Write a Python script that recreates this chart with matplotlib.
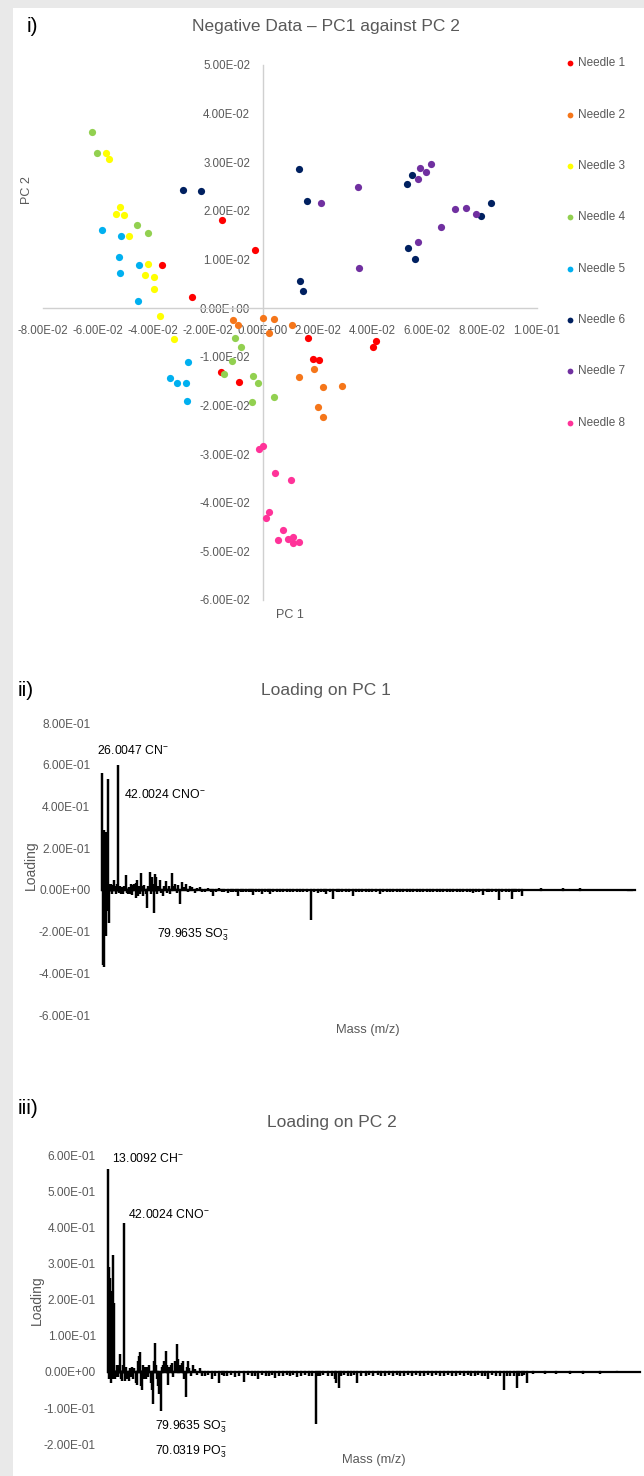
import numpy as np
import matplotlib
matplotlib.use("Agg")
from matplotlib import pyplot as plt
from matplotlib.patches import Rectangle
from matplotlib.ticker import FormatStrFormatter

plt.rcParams['font.family'] = ['Liberation Sans', 'DejaVu Sans']
plt.rcParams['mathtext.fontset'] = 'custom'
plt.rcParams['mathtext.rm'] = 'Liberation Sans'
plt.rcParams['mathtext.it'] = 'Liberation Sans'

# ---- panel i: PCA scores (PC1, PC2) ----
needle_names = ["Needle 1", "Needle 2", "Needle 3", "Needle 4",
                "Needle 5", "Needle 6", "Needle 7", "Needle 8"]
needle_colors = ["#FF0000", "#F5761A", "#FFFF00", "#92D050",
                 "#00B0F0", "#002060", "#7030A0", "#FF3399"]

needle1_x = [-0.0149, -0.0028, -0.0367, -0.0256, -0.0152, -0.0086, 0.0166, 0.0183, 0.0204, 0.0414, 0.0402]
needle1_y = [0.0181, 0.0119, 0.0088, 0.0023, -0.0132, -0.0152, -0.0062, -0.0104, -0.0106, -0.0067, -0.0080]
needle2_x = [-0.0108, -0.0089, 0.0000, 0.0041, 0.0023, 0.0108, 0.0132, 0.0188, 0.0221, 0.0288, 0.0203, 0.0221]
needle2_y = [-0.0025, -0.0035, -0.0021, -0.0023, -0.0051, -0.0035, -0.0141, -0.0125, -0.0162, -0.0160, -0.0204, -0.0224]
needle3_x = [-0.0569, -0.0560, -0.0521, -0.0533, -0.0505, -0.0485, -0.0418, -0.0427, -0.0395, -0.0397, -0.0373, -0.0322]
needle3_y = [0.0320, 0.0307, 0.0209, 0.0193, 0.0192, 0.0149, 0.0091, 0.0069, 0.0065, 0.0039, -0.0016, -0.0064]
needle4_x = [-0.0623, -0.0602, -0.0459, -0.0419, -0.0099, -0.0079, -0.0112, -0.0142, -0.0033, -0.0016, -0.0039, 0.0040]
needle4_y = [0.0362, 0.0319, 0.0172, 0.0155, -0.0062, -0.0079, -0.0108, -0.0136, -0.0140, -0.0154, -0.0192, -0.0183]
needle5_x = [-0.0584, -0.0517, -0.0523, -0.0520, -0.0451, -0.0454, -0.0270, -0.0336, -0.0311, -0.0278, -0.0276]
needle5_y = [0.0160, 0.0149, 0.0106, 0.0072, 0.0088, 0.0014, -0.0110, -0.0143, -0.0154, -0.0154, -0.0190]
needle6_x = [-0.0289, -0.0223, 0.0131, 0.0163, 0.0136, 0.0148, 0.0528, 0.0543, 0.0530, 0.0555, 0.0795, 0.0833]
needle6_y = [0.0242, 0.0240, 0.0286, 0.0221, 0.0056, 0.0036, 0.0256, 0.0273, 0.0123, 0.0102, 0.0190, 0.0216]
needle7_x = [0.0212, 0.0348, 0.0352, 0.0565, 0.0572, 0.0595, 0.0613, 0.0565, 0.0651, 0.0703, 0.0742, 0.0776]
needle7_y = [0.0216, 0.0249, 0.0083, 0.0265, 0.0289, 0.0279, 0.0296, 0.0137, 0.0167, 0.0204, 0.0207, 0.0193]
needle8_x = [-0.0012, 0.0001, 0.0045, 0.0103, 0.0023, 0.0014, 0.0073, 0.0057, 0.0094, 0.0112, 0.0112, 0.0134]
needle8_y = [-0.0289, -0.0284, -0.0339, -0.0353, -0.0419, -0.0431, -0.0457, -0.0476, -0.0474, -0.0471, -0.0482, -0.0481]

xs = [needle1_x, needle2_x, needle3_x, needle4_x, needle5_x, needle6_x, needle7_x, needle8_x]
ys = [needle1_y, needle2_y, needle3_y, needle4_y, needle5_y, needle6_y, needle7_y, needle8_y]

# ---- panel ii: loading on PC 1 (mass position, loading) ----
pc1_peaks = [
    (4.1, 0.562), (4.8, 0.10), (5.5, -0.36), (6.2, 0.25), (6.9, -0.37), (7.6, 0.29),
    (8.3, -0.20), (9.0, 0.22), (9.9, 0.28), (10.8, -0.22), (11.7, 0.20), (12.6, -0.10),
    (13.9, 0.533), (14.6, -0.05), (15.3, -0.16), (16.0, 0.03), (16.7, -0.12), (18.0, 0.02),
    (19.8, 0.03), (21.5, -0.02), (23.0, 0.025), (25.7, 0.048), (27.0, 0.02), (28.8, -0.02),
    (30.5, 0.03), (32.9, 0.598), (34.5, -0.015), (36, 0.02), (38, -0.02), (40, 0.015),
    (42, -0.02), (44, 0.02), (46.3, 0.072), (48, -0.015), (50.4, -0.02), (52, 0.015),
    (54, -0.02), (55.8, 0.03), (58, -0.025), (60, 0.025), (62, 0.03), (63.9, -0.04),
    (65, 0.035), (66.6, 0.05), (68, -0.03), (70, 0.02), (72, -0.02), (73.8, 0.08),
    (75.5, 0.02), (77.4, -0.03), (80, 0.025), (82, -0.02), (85.1, -0.088), (87, 0.02),
    (90, 0.085), (92, -0.02), (93.6, 0.06), (95.5, 0.03), (97.7, -0.112), (99, 0.075),
    (100.8, 0.06), (103, -0.02), (105, 0.02), (108, 0.05), (110, -0.015), (113.4, -0.03),
    (116, 0.02), (118.3, 0.045), (121, -0.015), (124, 0.02), (126, -0.02), (129, 0.08),
    (132, 0.02), (135, 0.03), (138, -0.015), (141, 0.025), (144, -0.067), (148, 0.04),
    (151, 0.015), (155, 0.03), (158, -0.01), (162, 0.02), (166, 0.012), (171, -0.015),
    (175, 0.01), (180, 0.015), (184, -0.01), (189, -0.012), (194, 0.008), (199, -0.012),
    (204, -0.03), (209, -0.01), (214, 0.01), (219, -0.012), (224, -0.008), (230, -0.015),
    (235, -0.01), (240, -0.012), (244, -0.008), (249, -0.028), (254, -0.01), (258, -0.008),
    (263, -0.012), (268, -0.01), (272, -0.008), (276, -0.025), (280, -0.01), (286, -0.012),
    (292, -0.02), (297, -0.01), (302, -0.008), (306, -0.02), (312, -0.01), (318, -0.008),
    (324, -0.012), (330, -0.01), (336, -0.008), (342, -0.01), (348, -0.012), (354, -0.008),
    (360, -0.01), (366, -0.012), (372, -0.008), (380, -0.145), (386, -0.01), (392, -0.015),
    (398, -0.01), (403, -0.012), (407, -0.02), (414, -0.01), (420, -0.043), (426, -0.01),
    (431, -0.012), (436, -0.012), (442, -0.008), (448, -0.01), (455, -0.03), (461, -0.01),
    (466, -0.008), (472, -0.01), (478, -0.012), (484, -0.008), (490, -0.012), (497, -0.01),
    (504, -0.02), (510, -0.008), (516, -0.012), (522, -0.01), (528, -0.008), (534, -0.012),
    (540, -0.01), (546, -0.008), (552, -0.012), (558, -0.01), (564, -0.008), (570, -0.012),
    (576, -0.01), (582, -0.008), (588, -0.012), (594, -0.01), (600, -0.008), (606, -0.012),
    (612, -0.01), (618, -0.008), (624, -0.012), (630, -0.01), (636, -0.008), (642, -0.012),
    (648, -0.01), (654, -0.008), (660, -0.012), (666, -0.01), (671, -0.015), (677, -0.008),
    (683, -0.012), (690, -0.025), (696, -0.008), (701, -0.012), (706, -0.01), (712, -0.008),
    (718, -0.05), (724, -0.01), (731, -0.012), (736, -0.008), (741, -0.045), (745, -0.01),
    (749, -0.012), (754, -0.008), (759, -0.03), (794, 0.008), (833, 0.008), (864, 0.008),
    (950, 0.006), (954, 0.006), (958, 0.006), (963, 0.0)]

# ---- panel iii: loading on PC 2 ----
pc2_peaks = [
    (14.9, 0.562), (15.4, 0.10), (15.8, 0.29), (16.4, -0.02), (17.1, 0.26), (17.8, 0.15),
    (18.9, 0.225), (19.6, -0.03), (20.3, -0.02), (21.5, 0.03), (22.5, -0.02), (23.9, 0.323),
    (24.8, 0.05), (25.7, 0.19), (27, -0.02), (28.8, -0.015), (30.5, 0.02), (32, -0.015),
    (34, 0.02), (36, 0.05), (37.8, -0.02), (39.6, -0.025), (41.5, 0.02), (43.7, 0.413),
    (45, -0.025), (45.9, -0.02), (47.5, 0.015), (49.5, -0.02), (51.5, -0.025), (54, 0.01),
    (56, -0.015), (58, 0.015), (60, -0.02), (62, 0.01), (64.5, -0.03), (66.6, -0.035),
    (68.5, 0.03), (70, 0.045), (72, 0.055), (73.5, -0.04), (74.7, -0.05), (76.5, 0.02),
    (78.5, -0.02), (80.5, 0.015), (82.8, -0.02), (85, 0.015), (87, -0.015), (89, 0.02),
    (91, -0.03), (93.5, -0.05), (95.9, -0.088), (97.5, 0.03), (99, 0.08), (100.8, 0.02),
    (102.6, -0.02), (104.5, -0.04), (106.5, -0.06), (109.3, -0.109), (111.5, 0.015),
    (113.4, 0.02), (116, 0.03), (118.8, 0.058), (120.5, 0.02), (122.4, -0.035), (124.5, 0.015),
    (127, 0.02), (129.6, 0.025), (132, -0.015), (135, 0.03), (138, 0.077), (140, 0.035),
    (142, 0.015), (144, 0.02), (147, 0.025), (150, 0.03), (152, -0.02), (154, -0.069),
    (156, 0.015), (158.4, 0.03), (161, 0.01), (164, -0.01), (167.4, 0.02), (171, 0.008),
    (175, -0.008), (180, 0.012), (184, -0.01), (189, -0.012), (195, -0.008), (201.6, -0.02),
    (207, -0.01), (214.7, -0.03), (220, -0.008), (224, -0.012), (228.6, -0.01), (235, -0.008),
    (243, -0.015), (250, -0.01), (259.2, -0.028), (266, -0.008), (273.6, -0.012), (279, -0.01),
    (284.4, -0.02), (291, -0.008), (298.8, -0.012), (305, -0.01), (310, -0.008), (315, -0.018),
    (322, -0.01), (329.4, -0.01), (336, -0.008), (342, -0.012), (348, -0.008), (354, -0.015),
    (362, -0.01), (369, -0.008), (376, -0.01), (382, -0.012), (388.8, -0.145), (393, -0.01),
    (396, -0.012), (402, -0.008), (410, -0.01), (418, -0.012), (422.5, -0.02), (424.8, -0.03),
    (429.7, -0.043), (434, -0.01), (440, -0.008), (446.4, -0.01), (452, -0.012), (457, -0.008),
    (463, -0.03), (470, -0.01), (478.8, -0.01), (485, -0.008), (492, -0.012), (500, -0.008),
    (506, -0.01), (513, -0.012), (520, -0.008), (527, -0.01), (534, -0.008), (540, -0.01),
    (547, -0.012), (554, -0.008), (561, -0.01), (568, -0.008), (576, -0.01), (583, -0.012),
    (590, -0.008), (597, -0.01), (604, -0.008), (612, -0.01), (619, -0.012), (626, -0.008),
    (633, -0.01), (640, -0.012), (648, -0.008), (655, -0.01), (662, -0.008), (668, -0.012),
    (675, -0.01), (681, -0.008), (688, -0.012), (693, -0.01), (699, -0.02), (705, -0.008),
    (712.8, -0.01), (720, -0.012), (727.7, -0.051), (733, -0.01), (738, -0.01), (745, -0.012),
    (751, -0.045), (755, -0.01), (759.6, -0.012), (764, -0.008), (769, -0.03), (780, -0.006),
    (801, -0.006), (820, -0.005), (846, -0.006), (870, -0.005), (900, -0.005), (930, -0.004),
    (972, 0.0)]

pc1_mass = [p[0] for p in pc1_peaks]
pc1_load = [p[1] for p in pc1_peaks]
pc2_mass = [p[0] for p in pc2_peaks]
pc2_load = [p[1] for p in pc2_peaks]

W, H = 644, 1476
GREY = "#595959"


def fx(px):
    return px / W


def fy(py):
    return 1 - py / H


def ticks(lo, hi, step):
    return np.round(np.arange(lo, hi + step / 2, step), 4) + 0.0


def stick_line(mass, load):
    m = np.repeat(np.asarray(mass, float), 3)
    v = np.zeros(len(m))
    v[1::3] = load
    return m, v


fig = plt.figure(figsize=(W / 100, H / 100), dpi=100)
fig.patch.set_facecolor("#E9E9E9")
fig.add_artist(Rectangle((fx(13), 0), 1, fy(8), transform=fig.transFigure,
                         facecolor="white", edgecolor="none", zorder=-10))

# panel i
ax1 = fig.add_axes([fx(43), fy(600), fx(537) - fx(43), fy(65) - fy(600)])
ax1.set_facecolor("none")
for i in range(8):
    ax1.scatter(xs[i], ys[i], s=27, color=needle_colors[i], label=needle_names[i],
                linewidths=0, zorder=3)
ax1.set_xlim(-0.08, 0.10)
ax1.set_ylim(-0.06, 0.05)
ax1.set_xticks(ticks(-0.08, 0.10, 0.02))
ax1.set_yticks(ticks(-0.06, 0.05, 0.01))
ax1.xaxis.set_major_formatter(FormatStrFormatter("%.2E"))
ax1.yaxis.set_major_formatter(FormatStrFormatter("%.2E"))
ax1.spines["left"].set_position(("data", 0))
ax1.spines["bottom"].set_position(("data", 0))
for s in ["top", "right"]:
    ax1.spines[s].set_visible(False)
for s in ["left", "bottom"]:
    ax1.spines[s].set_color("#D0D0D0")
    ax1.spines[s].set_linewidth(1)
ax1.tick_params(axis="x", length=0, pad=12, labelsize=8.3, labelcolor=GREY)
ax1.tick_params(axis="y", length=0, pad=9, labelsize=8.3, labelcolor=GREY)
ax1.legend(loc="upper left", bbox_to_anchor=(fx(565), fy(57.5)), bbox_transform=fig.transFigure,
           frameon=False, fontsize=8.5, labelcolor=GREY, handlelength=0.8, handletextpad=0.3,
           labelspacing=3.33, borderpad=0, borderaxespad=0, markerscale=0.8)

fig.text(fx(32), fy(27), "i)", fontsize=15, ha="center", va="center")
fig.text(fx(326), fy(27), "Negative Data \u2013 PC1 against PC 2", fontsize=12.5,
         color=GREY, ha="center", va="center")
fig.text(fx(27), fy(190), "PC 2", fontsize=9, color=GREY, rotation=90,
         ha="center", va="center")
fig.text(fx(290), fy(615), "PC 1", fontsize=9, color=GREY, ha="center", va="center")

# panels ii and iii
for mass, load, box, lims, step, pad in [
        (pc1_mass, pc1_load, (723.3, 1015), (-0.6, 0.8), 0.2, 7),
        (pc2_mass, pc2_load, (1155, 1444.3), (-0.2, 0.6), 0.1, 3)]:
    ax = fig.add_axes([fx(100), fy(box[1]), fx(641.7) - fx(100), fy(box[0]) - fy(box[1])])
    ax.set_facecolor("none")
    m, v = stick_line(mass, load)
    ax.plot(m, v, color="black", lw=1.6, solid_joinstyle="miter")
    ax.set_xlim(0, 975)
    ax.set_ylim(*lims)
    ax.set_yticks(ticks(lims[0], lims[1], step))
    ax.yaxis.set_major_formatter(FormatStrFormatter("%.2E"))
    ax.set_xticks([])
    for s in ax.spines.values():
        s.set_visible(False)
    ax.tick_params(axis="y", length=0, pad=pad, labelsize=8.6, labelcolor=GREY)

fig.text(fx(26), fy(690), "ii)", fontsize=15, ha="center", va="center")
fig.text(fx(326), fy(690), "Loading on PC 1", fontsize=12.5, color=GREY, ha="center", va="center")
fig.text(fx(31), fy(865), "Loading", fontsize=10, color=GREY, rotation=90, ha="center", va="center")
fig.text(fx(368), fy(1030), "Mass (m/z)", fontsize=9.3, color=GREY, ha="center", va="center")
fig.text(fx(97), fy(750), "26.0047 CN$^{-}$", fontsize=8.8, ha="left", va="center")
fig.text(fx(124), fy(795), "42.0024 CNO$^{-}$", fontsize=8.8, ha="left", va="center")
fig.text(fx(157), fy(935), "79.9635 SO$_3^{-}$", fontsize=8.8, ha="left", va="center")

fig.text(fx(28), fy(1108), "iii)", fontsize=15, ha="center", va="center")
fig.text(fx(332), fy(1123), "Loading on PC 2", fontsize=12.5, color=GREY, ha="center", va="center")
fig.text(fx(37), fy(1300), "Loading", fontsize=10, color=GREY, rotation=90, ha="center", va="center")
fig.text(fx(374), fy(1460), "Mass (m/z)", fontsize=9.3, color=GREY, ha="center", va="center")
fig.text(fx(112), fy(1159), "13.0092 CH$^{-}$", fontsize=8.8, ha="left", va="center")
fig.text(fx(128), fy(1215), "42.0024 CNO$^{-}$", fontsize=8.8, ha="left", va="center")
fig.text(fx(155), fy(1427), "79.9635 SO$_3^{-}$", fontsize=8.8, ha="left", va="center")
fig.text(fx(155), fy(1452), "70.0319 PO$_3^{-}$", fontsize=8.8, ha="left", va="center")

fig.savefig("out.png", dpi=100, facecolor=fig.get_facecolor())
